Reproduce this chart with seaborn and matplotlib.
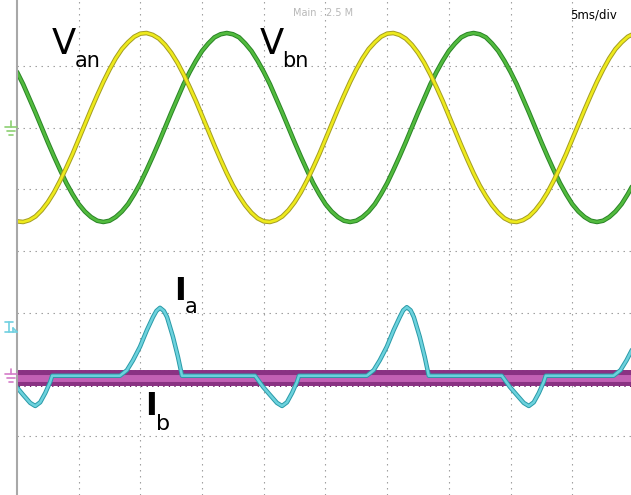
import matplotlib
matplotlib.use("Agg")
import matplotlib.pyplot as plt
from matplotlib.lines import Line2D
from matplotlib.transforms import IdentityTransform
import pandas as pd
import seaborn as sns

# ---- data (time in ms, amplitude in screen divisions from bottom) ----
t_v = [i * 0.5 for i in range(101)]
van = [4.48, 4.47, 4.50, 4.56, 4.66, 4.79, 4.95, 5.14, 5.35, 5.57,
       5.81, 6.05, 6.29, 6.52, 6.74, 6.94, 7.12, 7.27, 7.38, 7.47,
       7.52, 7.53, 7.50, 7.44, 7.34, 7.21, 7.05, 6.86, 6.65, 6.43,
       6.19, 5.95, 5.71, 5.48, 5.26, 5.06, 4.89, 4.74, 4.62, 4.53,
       4.48, 4.47, 4.50, 4.56, 4.66, 4.79, 4.95, 5.14, 5.35, 5.57,
       5.81, 6.05, 6.29, 6.52, 6.74, 6.94, 7.12, 7.27, 7.38, 7.47,
       7.52, 7.53, 7.50, 7.44, 7.34, 7.21, 7.05, 6.86, 6.65, 6.43,
       6.19, 5.95, 5.71, 5.48, 5.26, 5.06, 4.89, 4.74, 4.62, 4.53,
       4.48, 4.47, 4.50, 4.56, 4.66, 4.79, 4.95, 5.14, 5.35, 5.57,
       5.81, 6.05, 6.29, 6.52, 6.74, 6.94, 7.12, 7.27, 7.38, 7.47,
       7.52]
vbn = [6.90, 6.70, 6.47, 6.24, 6.00, 5.76, 5.53, 5.31, 5.10, 4.92,
       4.76, 4.64, 4.55, 4.49, 4.47, 4.49, 4.55, 4.64, 4.76, 4.92,
       5.10, 5.31, 5.53, 5.76, 6.00, 6.24, 6.47, 6.70, 6.90, 7.08,
       7.24, 7.36, 7.46, 7.51, 7.53, 7.51, 7.46, 7.36, 7.24, 7.08,
       6.90, 6.70, 6.47, 6.24, 6.00, 5.76, 5.53, 5.31, 5.10, 4.92,
       4.76, 4.64, 4.55, 4.49, 4.47, 4.49, 4.55, 4.64, 4.76, 4.92,
       5.10, 5.31, 5.53, 5.76, 6.00, 6.24, 6.47, 6.70, 6.90, 7.08,
       7.24, 7.36, 7.46, 7.51, 7.53, 7.51, 7.46, 7.36, 7.24, 7.08,
       6.90, 6.70, 6.47, 6.24, 6.00, 5.76, 5.53, 5.31, 5.10, 4.92,
       4.76, 4.64, 4.55, 4.49, 4.47, 4.49, 4.55, 4.64, 4.76, 4.92,
       5.10]
t_ia = [0.00, 0.50, 1.07, 1.48, 1.88, 2.29, 2.69, 2.85,
        8.35, 8.91, 9.40, 9.97, 10.53, 11.02, 11.30, 11.59, 11.90, 12.16, 12.64, 13.05, 13.37,
        19.29, 19.94, 20.50, 21.07, 21.48, 21.88, 22.29, 22.69, 22.85,
        28.35, 28.91, 29.40, 29.97, 30.53, 31.02, 31.30, 31.59, 31.90, 32.16, 32.64, 33.05, 33.37,
        39.29, 39.94, 40.50, 41.07, 41.48, 41.88, 42.29, 42.69, 42.85,
        48.35, 48.91, 49.40, 49.97]
ia = [1.79, 1.67, 1.54, 1.49, 1.55, 1.70, 1.88, 1.98,
      1.98, 2.07, 2.23, 2.45, 2.72, 2.93, 3.03, 3.08, 3.03, 2.93, 2.61, 2.28, 1.98,
      1.98, 1.80, 1.67, 1.54, 1.49, 1.55, 1.70, 1.88, 1.98,
      1.98, 2.07, 2.23, 2.45, 2.72, 2.93, 3.04, 3.09, 3.04, 2.93, 2.61, 2.28, 1.98,
      1.98, 1.80, 1.67, 1.54, 1.49, 1.55, 1.70, 1.88, 1.98,
      1.98, 2.07, 2.23, 2.45]
t_ib = [0, 10, 20, 30, 40, 50]
ib = [1.94, 1.94, 1.94, 1.94, 1.94, 1.94]

grid_x = [5, 10, 15, 20, 25, 30, 35, 40, 45]
grid_y = [1, 2, 3, 4, 5, 6, 7]

W, H = 631, 495
sns.set_style("white")
plt.rcParams["hatch.linewidth"] = 0.9
fig = plt.figure(figsize=(W / 100, H / 100), dpi=100)
ax = fig.add_axes([17 / W, 0, 1 - 17 / W, 1])
ax.set_xlim(0, 49.76)
ax.set_ylim(3 / 61.75, 498 / 61.75)

ax.set_xticks(grid_x)
ax.set_yticks(grid_y)
ax.tick_params(length=0, labelbottom=False, labelleft=False)
ax.grid(True, color="#9c9c9c", lw=0.8, ls=(0, (1.3, 4.1)))
for s in ["top", "right", "bottom"]:
    ax.spines[s].set_visible(False)
ax.spines["left"].set_color("#a8a8a8")
ax.spines["left"].set_linewidth(1.5)

df_v = pd.DataFrame({"t": t_v, "Van": van, "Vbn": vbn})
df_ia = pd.DataFrame({"t": t_ia, "Ia": ia})
df_ib = pd.DataFrame({"t": t_ib, "Ib": ib})

sns.lineplot(data=df_v, x="t", y="Vbn", color="#2a8426", lw=3.3, ax=ax)
sns.lineplot(data=df_v, x="t", y="Vbn", color="#52bb3e", lw=1.9, ax=ax)
sns.lineplot(data=df_v, x="t", y="Van", color="#a49d22", lw=3.3, ax=ax)
sns.lineplot(data=df_v, x="t", y="Van", color="#eeea1c", lw=1.9, ax=ax)

sns.lineplot(data=df_ib, x="t", y="Ib", color="#8a3283", lw=11.5, ax=ax)
sns.lineplot(data=df_ib, x="t", y="Ib", color="#c260b4", lw=5, ax=ax)
ax.fill_between(t_ib, [v + 0.05 for v in ib], [v + 0.14 for v in ib],
                facecolor="none", edgecolor="#5e1858", hatch="||||", lw=0)
ax.fill_between(t_ib, [v - 0.14 for v in ib], [v - 0.07 for v in ib],
                facecolor="none", edgecolor="#6e2268", hatch="|||", lw=0)

sns.lineplot(data=df_ia, x="t", y="Ia", color="#2a9aa8", lw=3.2, ax=ax)
sns.lineplot(data=df_ia, x="t", y="Ia", color="#6cd2dd", lw=1.8, ax=ax)
ax.set_xlabel("")
ax.set_ylabel("")


def fx(px):
    return px / W


def fy(py):
    return 1 - py / H


def seg(x1, y1, x2, y2, color, lw=1.2):
    fig.add_artist(Line2D([x1, x2], [H - y1, H - y2], color=color, lw=lw,
                          transform=IdentityTransform()))


# ground / level markers at the left edge
gc = "#8ccf72"
seg(11, 121, 11, 127, gc)
seg(5, 127, 17, 127, gc)
seg(7, 131, 15, 131, gc)
seg(9, 135, 13, 135, gc)
mc = "#d47cc8"
seg(11, 369, 11, 374, mc)
seg(5, 374, 17, 374, mc)
seg(7, 378, 15, 378, mc)
seg(9, 382, 13, 382, mc)
cc = "#70d0e0"
seg(5, 322, 13, 322, cc)
seg(9, 322, 9, 332, cc)
seg(5, 332, 17, 332, cc)
seg(13, 328, 13, 332, cc)
seg(13, 328, 17, 332, cc)

# labels
fig.text(fx(52), fy(54), "V", fontsize=25.5, va="baseline", ha="left", color="black")
fig.text(fx(75), fy(67), "an", fontsize=15, va="baseline", ha="left", color="black")
fig.text(fx(260), fy(54), "V", fontsize=25.5, va="baseline", ha="left", color="black")
fig.text(fx(282), fy(67), "bn", fontsize=15, va="baseline", ha="left", color="black")
fig.text(fx(174), fy(300), "I", fontsize=23, va="baseline", ha="left", color="black",
         fontweight="bold")
fig.text(fx(185), fy(313), "a", fontsize=15, va="baseline", ha="left", color="black")
fig.text(fx(145), fy(415), "I", fontsize=23, va="baseline", ha="left", color="black",
         fontweight="bold")
fig.text(fx(156), fy(430), "b", fontsize=16, va="baseline", ha="left", color="black")

fig.text(fx(293), fy(13), "Main : 2.5 M", fontsize=7, va="center", ha="left",
         color="#b8b8b8")
fig.text(fx(570), fy(15), "5ms/div", fontsize=8.5, va="center", ha="left",
         color="black", family=["Liberation Sans Narrow", "DejaVu Sans"])

fig.savefig("out.png", dpi=100)
